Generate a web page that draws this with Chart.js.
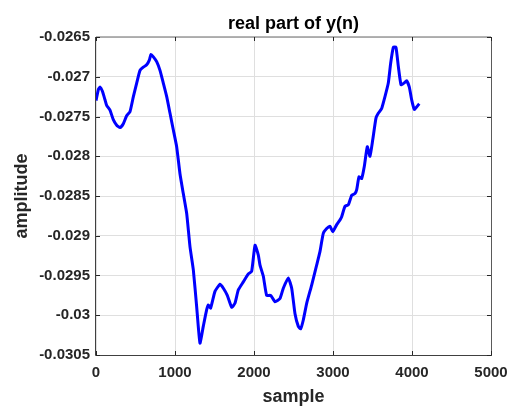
<!DOCTYPE html>
<html>
<head>
<meta charset="utf-8">
<script src="https://cdn.jsdelivr.net/npm/chart.js@4.4.1/dist/chart.umd.min.js"></script>
<style>
  html, body { margin: 0; padding: 0; background: #ffffff; }
  #wrap { width: 513px; height: 408px; position: relative; }
</style>
</head>
<body>
<div id="wrap"><canvas id="c" width="513" height="408"></canvas></div>
<script>
// Real part of y(n), sampled along n
const samples = [0, 30, 51, 80, 114, 135, 177, 219, 262, 304, 346, 388, 430, 473, 515, 557, 599, 641, 675, 696, 726, 768, 810, 852, 895, 937, 979, 1021, 1063, 1105, 1148, 1190, 1232, 1274, 1316, 1358, 1401, 1422, 1451, 1506, 1570, 1612, 1662, 1717, 1759, 1802, 1865, 1928, 1970, 2013, 2054, 2076, 2118, 2160, 2211, 2266, 2329, 2371, 2434, 2477, 2519, 2561, 2591, 2624, 2667, 2730, 2793, 2835, 2877, 2920, 2962, 2996, 3047, 3089, 3110, 3152, 3194, 3237, 3278, 3300, 3329, 3363, 3396, 3434, 3468, 3502, 3544, 3573, 3616, 3658, 3700, 3730, 3764, 3797, 3827, 3861, 3899, 3932, 3966, 3996, 4029, 4059, 4092];
const realY = [-0.02730, -0.02716, -0.02713, -0.02718, -0.02729, -0.02736, -0.02742, -0.02754, -0.02761, -0.02764, -0.02759, -0.02749, -0.02744, -0.02725, -0.02708, -0.02692, -0.02688, -0.02685, -0.02679, -0.02672, -0.02675, -0.02681, -0.02692, -0.02708, -0.02725, -0.02746, -0.02767, -0.02788, -0.02822, -0.02847, -0.02872, -0.02914, -0.02943, -0.02989, -0.03035, -0.03014, -0.02993, -0.02987, -0.02991, -0.02970, -0.02961, -0.02966, -0.02975, -0.02990, -0.02985, -0.02968, -0.02958, -0.02948, -0.02945, -0.02912, -0.02924, -0.02937, -0.02951, -0.02975, -0.02975, -0.02983, -0.02979, -0.02966, -0.02953, -0.02966, -0.02998, -0.03014, -0.03017, -0.03006, -0.02985, -0.02962, -0.02937, -0.02920, -0.02897, -0.02891, -0.02888, -0.02895, -0.02886, -0.02880, -0.02876, -0.02863, -0.02861, -0.02849, -0.02847, -0.02842, -0.02826, -0.02828, -0.02813, -0.02788, -0.02800, -0.02780, -0.02752, -0.02746, -0.02740, -0.02725, -0.02708, -0.02683, -0.02663, -0.02663, -0.02687, -0.02710, -0.02708, -0.02705, -0.02713, -0.02729, -0.02741, -0.02738, -0.02734];

const xTicks = [0, 1000, 2000, 3000, 4000, 5000];
const yTicks = [-0.0305, -0.03, -0.0295, -0.029, -0.0285, -0.028, -0.0275, -0.027, -0.0265];

const chartTitle = 'real part of y(n)';
const xLabel = 'sample';
const yLabel = 'amplitude';

const INK = '#262626';
const FONT = "'Liberation Sans', Arial, Helvetica, sans-serif";

// Box outline plus inward tick marks on all four sides
const boxPlugin = {
  id: 'axesBox',
  afterDraw(chart) {
    const { ctx, chartArea: a, scales } = chart;
    const xs = scales.x, ys = scales.y;
    ctx.save();
    // top and right edges
    ctx.strokeStyle = '#9a9a9a';
    ctx.lineWidth = 1.5;
    ctx.beginPath();
    ctx.moveTo(a.left, a.top);
    ctx.lineTo(a.right, a.top);
    ctx.stroke();
    ctx.strokeStyle = '#5a5a5a';
    ctx.lineWidth = 1;
    ctx.beginPath();
    ctx.moveTo(a.right + 0.5, a.top);
    ctx.lineTo(a.right + 0.5, a.bottom);
    ctx.stroke();
    // bottom and left edges
    ctx.strokeStyle = '#404040';
    ctx.beginPath();
    ctx.moveTo(a.left - 0.5, a.top);
    ctx.lineTo(a.left - 0.5, a.bottom + 0.5);
    ctx.lineTo(a.right + 1, a.bottom + 0.5);
    ctx.stroke();
    // tick marks
    ctx.strokeStyle = INK;
    ctx.beginPath();
    const tl = 4;
    xs.ticks.forEach(t => {
      const px = Math.round(xs.getPixelForValue(t.value)) + 0.5;
      ctx.moveTo(px, a.bottom); ctx.lineTo(px, a.bottom - tl);
      ctx.moveTo(px, a.top); ctx.lineTo(px, a.top + tl);
    });
    ys.ticks.forEach(t => {
      const py = Math.round(ys.getPixelForValue(t.value)) + 0.5;
      ctx.moveTo(a.left, py); ctx.lineTo(a.left + tl, py);
      ctx.moveTo(a.right, py); ctx.lineTo(a.right - tl, py);
    });
    ctx.stroke();
    ctx.restore();
  }
};

const fmt = v => String(Number(v.toFixed(4)));

new Chart(document.getElementById('c'), {
  type: 'line',
  data: {
    datasets: [{
      data: samples.map((s, i) => ({ x: s, y: realY[i] })),
      borderColor: '#0000ff',
      borderWidth: 3,
      pointRadius: 0,
      tension: 0.15,
      fill: false
    }]
  },
  options: {
    responsive: false,
    animation: false,
    events: [],
    layout: { padding: { left: 0, right: 22, top: 0, bottom: 0 } },
    plugins: {
      legend: { display: false },
      tooltip: { enabled: false },
      title: {
        display: true,
        fullSize: false,
        text: chartTitle,
        color: '#000000',
        font: { family: FONT, size: 18, weight: 'bold', lineHeight: 1.2 },
        padding: { top: 13, bottom: 2.4 }
      }
    },
    scales: {
      x: {
        type: 'linear',
        min: 0, max: 5000,
        afterBuildTicks: s => { s.ticks = xTicks.map(v => ({ value: v })); },
        afterFit: s => { s.height = 53; s.paddingLeft = 0; s.paddingRight = 0; },
        grid: { color: '#dfdfdf', lineWidth: 1, drawTicks: false },
        border: { display: false },
        ticks: {
          color: INK, padding: 9, maxRotation: 0,
          font: { family: FONT, size: 15, weight: 'bold' },
          callback: v => String(v)
        },
        title: {
          display: true, text: xLabel, color: INK,
          font: { family: FONT, size: 18, weight: 'bold', lineHeight: 1.2 },
          padding: { top: 0, bottom: 0 }
        }
      },
      y: {
        min: -0.0305, max: -0.0265,
        afterBuildTicks: s => { s.ticks = yTicks.map(v => ({ value: v })); },
        afterFit: s => { s.width = 96; s.paddingTop = 0; s.paddingBottom = 0; },
        grid: { color: '#dfdfdf', lineWidth: 1, drawTicks: false },
        border: { display: false },
        ticks: {
          color: INK, padding: 6,
          font: { family: FONT, size: 15, weight: 'bold' },
          callback: v => fmt(v)
        },
        title: {
          display: true, text: yLabel, color: INK,
          font: { family: FONT, size: 18, weight: 'bold', lineHeight: 1.2 },
          padding: { top: 11, bottom: 0 }
        }
      }
    }
  },
  plugins: [boxPlugin]
});
</script>
</body>
</html>
